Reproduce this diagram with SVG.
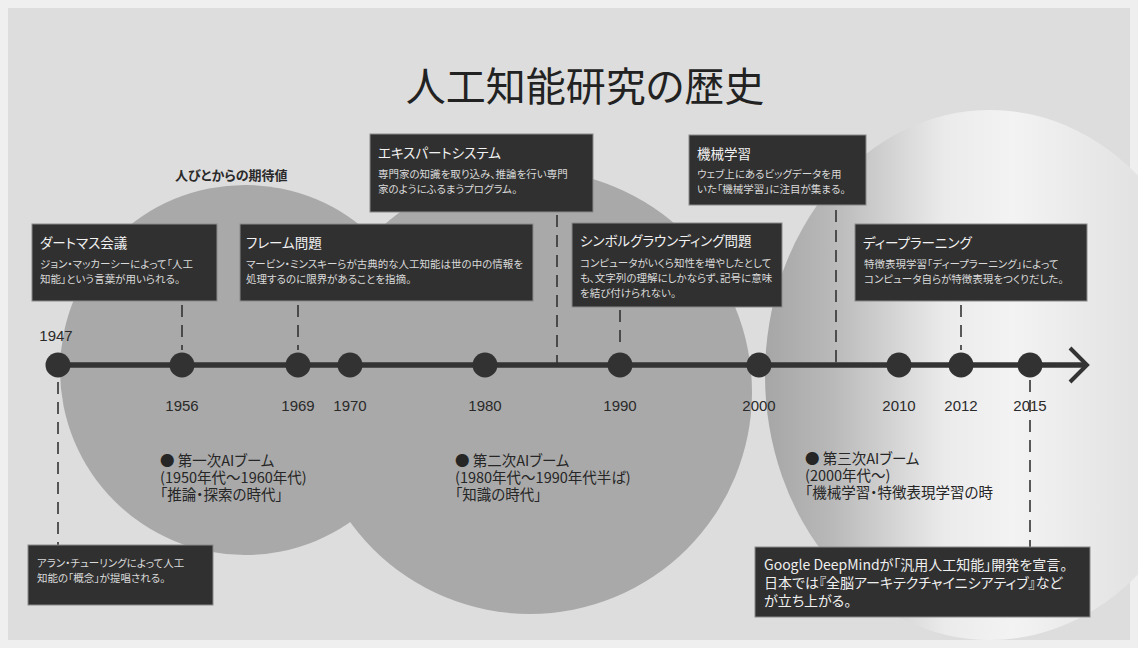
<svg xmlns="http://www.w3.org/2000/svg" width="1138" height="648" viewBox="0 0 1138 648">
<defs>
<linearGradient id="g3" x1="0" y1="0" x2="1" y2="0">
<stop offset="0" stop-color="#a6a6a6"/>
<stop offset="0.15" stop-color="#b9b9b9"/>
<stop offset="0.4" stop-color="#ebebeb"/>
<stop offset="0.55" stop-color="#f3f3f3"/>
<stop offset="0.8" stop-color="#e4e4e4"/>
<stop offset="1" stop-color="#dedede"/>
</linearGradient>
<style>
.jp{font-family:"Noto Sans CJK JP","Noto Sans",sans-serif;font-feature-settings:"palt"}
.box{fill:#303030;stroke:#8a8a8a;stroke-width:1}
.bt{font-family:"Noto Sans CJK JP",sans-serif;font-size:13.5px;fill:#f2f2f2;font-feature-settings:"palt"}
.bb{font-family:"Noto Sans CJK JP",sans-serif;font-size:10.5px;fill:#dadada;font-feature-settings:"palt"}
.boom{font-family:"Noto Sans CJK JP",sans-serif;font-size:14.5px;fill:#262626;font-feature-settings:"palt"}
.yr{font-family:"Liberation Sans",Arial,sans-serif;font-size:15px;fill:#2a2a2a;text-anchor:middle}
.dash{stroke:#333;stroke-width:1.6;stroke-dasharray:12 8;fill:none}
.node{fill:#323232}
</style>
</defs>
<rect x="0" y="0" width="1138" height="648" fill="#efefef"/>
<rect x="8" y="8" width="1122" height="632" fill="#dddddd"/>
<g id="booms">
<circle cx="245" cy="370" r="185" fill="#a9a9a9"/>
<circle cx="530" cy="392" r="222" fill="#a9a9a9"/>
<ellipse cx="990" cy="375" rx="225" ry="265" fill="url(#g3)"/>
</g>
<text x="585" y="101" class="jp" font-size="40" fill="#222" text-anchor="middle">人工知能研究の歴史</text>
<text x="175" y="180" class="jp" font-size="13" font-weight="bold" fill="#2a2a2a">人びとからの期待値</text>
<g id="connectors">
<line x1="58" y1="365" x2="1086" y2="365" stroke="#333" stroke-width="5.5"/>
<polyline points="1070,348 1087,365 1070,382" fill="none" stroke="#333" stroke-width="4"/>
<line class="dash" x1="182" y1="305" x2="182" y2="350"/>
<line class="dash" x1="298" y1="305" x2="298" y2="350"/>
<line class="dash" x1="557" y1="215" x2="557" y2="365"/>
<line class="dash" x1="620" y1="310" x2="620" y2="350"/>
<line class="dash" x1="836" y1="210" x2="836" y2="365"/>
<line class="dash" x1="961" y1="305" x2="961" y2="350"/>
<line class="dash" x1="58" y1="382" x2="58" y2="545"/>
<line class="dash" x1="1030" y1="380" x2="1030" y2="547"/>
</g>
<g id="nodes">
<circle class="node" cx="58" cy="365" r="12.5"/>
<circle class="node" cx="182" cy="365" r="12.5"/>
<circle class="node" cx="298" cy="365" r="12.5"/>
<circle class="node" cx="350" cy="365" r="12.5"/>
<circle class="node" cx="485" cy="365" r="12.5"/>
<circle class="node" cx="620" cy="365" r="12.5"/>
<circle class="node" cx="759" cy="365" r="12.5"/>
<circle class="node" cx="899" cy="365" r="12.5"/>
<circle class="node" cx="961" cy="365" r="12.5"/>
<circle class="node" cx="1030" cy="365" r="12.5"/>
</g>
<g id="years">
<text class="yr" x="56" y="341">1947</text>
<text class="yr" x="182" y="411">1956</text>
<text class="yr" x="298" y="411">1969</text>
<text class="yr" x="350" y="411">1970</text>
<text class="yr" x="485" y="411">1980</text>
<text class="yr" x="620" y="411">1990</text>
<text class="yr" x="759" y="411">2000</text>
<text class="yr" x="899" y="411">2010</text>
<text class="yr" x="961" y="411">2012</text>
<text class="yr" x="1030" y="411">2015</text>
</g>
<g id="dartmouth">
<rect class="box" x="32" y="224" width="185" height="77"/>
<text class="bt" x="40" y="248">ダートマス会議</text>
<text class="bb" x="40" y="268">ジョン・マッカーシーによって「人工</text>
<text class="bb" x="40" y="283">知能」という言葉が用いられる。</text>
</g>
<g id="frame">
<rect class="box" x="240" y="224" width="293" height="77"/>
<text class="bt" x="246" y="248">フレーム問題</text>
<text class="bb" x="246" y="268">マービン・ミンスキーらが古典的な人工知能は世の中の情報を</text>
<text class="bb" x="246" y="283">処理するのに限界があることを指摘。</text>
</g>
<g id="expert">
<rect class="box" x="370" y="134" width="223" height="78"/>
<text class="bt" x="378" y="158">エキスパートシステム</text>
<text class="bb" x="378" y="178">専門家の知識を取り込み、推論を行い専門</text>
<text class="bb" x="378" y="193">家のようにふるまうプログラム。</text>
</g>
<g id="symbol">
<rect class="box" x="572" y="223" width="210" height="84"/>
<text class="bt" x="580" y="246">シンボルグラウンディング問題</text>
<text class="bb" x="580" y="267">コンピュータがいくら知性を増やしたとして</text>
<text class="bb" x="580" y="282">も、文字列の理解にしかならず、記号に意味</text>
<text class="bb" x="580" y="297">を結び付けられない。</text>
</g>
<g id="ml">
<rect class="box" x="689" y="135" width="177" height="70"/>
<text class="bt" x="697" y="159">機械学習</text>
<text class="bb" x="697" y="178">ウェブ上にあるビッグデータを用</text>
<text class="bb" x="697" y="193">いた「機械学習」に注目が集まる。</text>
</g>
<g id="deep">
<rect class="box" x="855" y="224" width="232" height="77"/>
<text class="bt" x="863" y="248">ディープラーニング</text>
<text class="bb" x="864" y="268">特徴表現学習「ディープラーニング」によって</text>
<text class="bb" x="864" y="283">コンピュータ自らが特徴表現をつくりだした。</text>
</g>
<g id="turing">
<rect class="box" x="28" y="545" width="185" height="60"/>
<text class="bb" x="37" y="567">アラン・チューリングによって人工</text>
<text class="bb" x="37" y="582">知能の「概念」が提唱される。</text>
</g>
<g id="google">
<rect class="box" x="755" y="547" width="335" height="70"/>
<text class="jp" font-size="14" fill="#efefef" x="764" y="570">Google DeepMindが「汎用人工知能」開発を宣言。</text>
<text class="jp" font-size="14" fill="#efefef" x="764" y="588">日本では『全脳アーキテクチャイニシアティブ』など</text>
<text class="jp" font-size="14" fill="#efefef" x="764" y="606">が立ち上がる。</text>
</g>
<g id="boom1">
<text class="boom" x="160" y="466">● 第一次AIブーム</text>
<text class="boom" x="160" y="483">(1950年代～1960年代)</text>
<text class="boom" x="160" y="500">「推論・探索の時代」</text>
</g>
<g id="boom2">
<text class="boom" x="455" y="466">● 第二次AIブーム</text>
<text class="boom" x="455" y="483">(1980年代～1990年代半ば)</text>
<text class="boom" x="455" y="500">「知識の時代」</text>
</g>
<g id="boom3">
<text class="boom" x="805" y="464">● 第三次AIブーム</text>
<text class="boom" x="805" y="481">(2000年代～)</text>
<text class="boom" x="805" y="498">「機械学習・特徴表現学習の時</text>
</g>
</svg>
